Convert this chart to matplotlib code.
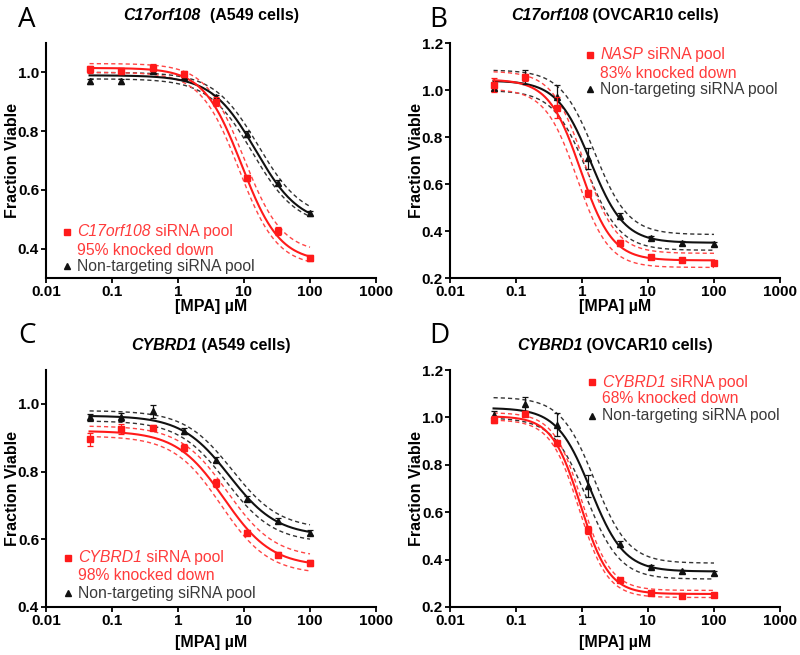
import numpy as np
import matplotlib

matplotlib.use('Agg')
import matplotlib.pyplot as plt

plt.rcParams['font.family'] = ['Liberation Sans', 'DejaVu Sans']

# MPA concentrations (uM), 3-fold dilutions
conc = [0.0457, 0.137, 0.412, 1.23, 3.70, 11.1, 33.3, 100]

# panel A: C17orf108, A549
a_kd = [1.010, 1.005, 1.015, 0.995, 0.900, 0.640, 0.460, 0.368]
a_kd_err = [0.012, 0.010, 0.012, 0.010, 0.015, 0.010, 0.012, 0.010]
a_nt = [0.970, 0.970, 1.005, 0.985, 0.915, 0.790, 0.625, 0.520]
a_nt_err = [0.008, 0.008, 0.008, 0.008, 0.008, 0.010, 0.008, 0.008]
# fit params: top, bottom, ec50, hill  (fit, upper 95% band, lower 95% band)
a_kd_fit = [(1.015, 0.355, 9.2, 1.5), (1.030, 0.385, 10.0, 1.5), (1.000, 0.340, 8.4, 1.5)]
a_nt_fit = [(0.990, 0.480, 15.0, 1.3), (1.000, 0.500, 16.5, 1.3), (0.978, 0.475, 13.5, 1.3)]

# panel B: C17orf108, OVCAR10 (NASP knockdown)
b_kd = [1.020, 1.055, 0.925, 0.560, 0.350, 0.290, 0.275, 0.265]
b_kd_err = [0.030, 0.015, 0.045, 0.015, 0.012, 0.010, 0.008, 0.008]
b_nt = [1.010, 1.055, 0.970, 0.710, 0.465, 0.370, 0.350, 0.345]
b_nt_err = [0.015, 0.030, 0.050, 0.045, 0.012, 0.008, 0.008, 0.008]
b_kd_fit = [(1.045, 0.275, 0.95, 1.8), (1.080, 0.305, 1.08, 1.8), (1.005, 0.245, 0.84, 1.8)]
b_nt_fit = [(1.040, 0.350, 1.35, 1.7), (1.085, 0.385, 1.55, 1.7), (0.998, 0.318, 1.18, 1.7)]

# panel C: CYBRD1, A549
c_kd = [0.895, 0.925, 0.930, 0.870, 0.765, 0.620, 0.555, 0.530]
c_kd_err = [0.020, 0.015, 0.008, 0.010, 0.012, 0.008, 0.008, 0.010]
c_nt = [0.960, 0.960, 0.978, 0.920, 0.835, 0.720, 0.655, 0.620]
c_nt_err = [0.010, 0.012, 0.020, 0.008, 0.008, 0.008, 0.008, 0.008]
c_kd_fit = [(0.920, 0.520, 5.0, 1.2), (0.935, 0.545, 5.6, 1.2), (0.905, 0.497, 4.5, 1.2)]
c_nt_fit = [(0.965, 0.610, 6.0, 1.2), (0.980, 0.630, 6.6, 1.2), (0.950, 0.590, 5.4, 1.2)]

# panel D: CYBRD1, OVCAR10
d_kd = [0.990, 1.015, 0.890, 0.525, 0.315, 0.260, 0.245, 0.250]
d_kd_err = [0.015, 0.010, 0.010, 0.015, 0.008, 0.008, 0.006, 0.008]
d_nt = [1.010, 1.055, 0.970, 0.710, 0.465, 0.370, 0.350, 0.345]
d_nt_err = [0.015, 0.030, 0.050, 0.045, 0.012, 0.008, 0.008, 0.008]
d_kd_fit = [(1.005, 0.255, 0.95, 2.0), (1.020, 0.270, 1.00, 2.0), (0.990, 0.240, 0.90, 2.0)]
d_nt_fit = b_nt_fit

xticks = [0.01, 0.1, 1, 10, 100, 1000]
xticklabels = ['0.01', '0.1', '1', '10', '100', '1000']

RED = '#ff1a1a'
RED_TXT = '#ff3b3b'
BLK = '#111111'
GRY_TXT = '#3a3a3a'


def logistic(x, top, bottom, ec50, hill):
    return bottom + (top - bottom) / (1 + (x / ec50) ** hill)


panels = [
    dict(letter='A', gene='C17orf108', cells='  (A549 cells)', kd_gene='C17orf108', pct='95%',
         kd=a_kd, kd_err=a_kd_err, nt=a_nt, nt_err=a_nt_err, kd_fit=a_kd_fit, nt_fit=a_nt_fit,
         ylim=(0.3, 1.1), yticks=[0.4, 0.6, 0.8, 1.0],
         rect=[46, 43, 330, 235], leg=(0.064, [0.196, 0.119, 0.051]), tity=1.119, xlaby=-0.088),
    dict(letter='B', gene='C17orf108', cells=' (OVCAR10 cells)', kd_gene='NASP', pct='83%',
         kd=b_kd, kd_err=b_kd_err, nt=b_nt, nt_err=b_nt_err, kd_fit=b_kd_fit, nt_fit=b_nt_fit,
         ylim=(0.2, 1.2), yticks=[0.2, 0.4, 0.6, 0.8, 1.0, 1.2],
         rect=[450, 43, 330, 235], leg=(0.424, [0.949, 0.872, 0.804]), tity=1.119, xlaby=-0.088),
    dict(letter='C', gene='CYBRD1', cells=' (A549 cells)', kd_gene='CYBRD1', pct='98%',
         kd=c_kd, kd_err=c_kd_err, nt=c_nt, nt_err=c_nt_err, kd_fit=c_kd_fit, nt_fit=c_nt_fit,
         ylim=(0.4, 1.1), yticks=[0.4, 0.6, 0.8, 1.0],
         rect=[46, 370, 330, 237], leg=(0.067, [0.207, 0.135, 0.059]), tity=1.105, xlaby=-0.118),
    dict(letter='D', gene='CYBRD1', cells=' (OVCAR10 cells)', kd_gene='CYBRD1', pct='68%',
         kd=d_kd, kd_err=d_kd_err, nt=d_nt, nt_err=d_nt_err, kd_fit=d_kd_fit, nt_fit=d_nt_fit,
         ylim=(0.2, 1.2), yticks=[0.2, 0.4, 0.6, 0.8, 1.0, 1.2],
         rect=[450, 370, 330, 237], leg=(0.430, [0.949, 0.878, 0.806]), tity=1.105, xlaby=-0.118),
]

W, H = 800, 655
fig = plt.figure(figsize=(W / 100, H / 100), dpi=100)
xs = np.logspace(np.log10(conc[0]), np.log10(conc[-1]), 300)
titles = []

for p in panels:
    l, t, w, h = p['rect']
    ax = fig.add_axes([l / W, 1 - (t + h) / H, w / W, h / H])

    for fits, col, dcol in [(p['nt_fit'], BLK, '#333333'), (p['kd_fit'], RED, '#ff4545')]:
        ax.plot(xs, logistic(xs, *fits[0]), color=col, lw=1.5, zorder=3)
        for f in fits[1:]:
            ax.plot(xs, logistic(xs, *f), color=dcol, lw=1.0, dashes=(3, 2.2), zorder=2)

    ax.errorbar(conc, p['nt'], yerr=p['nt_err'], fmt='^', color=BLK, ms=4.5,
                elinewidth=0.9, capsize=2.5, capthick=0.9, zorder=4)
    ax.errorbar(conc, p['kd'], yerr=p['kd_err'], fmt='s', color=RED, ms=4,
                elinewidth=0.9, capsize=2.5, capthick=0.9, zorder=5)

    ax.set_xscale('log')
    ax.set_xlim(0.01, 1000)
    ax.set_ylim(*p['ylim'])
    ax.set_xticks(xticks)
    ax.set_xticklabels(xticklabels)
    ax.minorticks_off()
    ax.set_yticks(p['yticks'])
    ax.set_yticklabels(['%.1f' % v for v in p['yticks']])
    for s in ['top', 'right']:
        ax.spines[s].set_visible(False)
    for s in ['left', 'bottom']:
        ax.spines[s].set_linewidth(1.5)
    ax.tick_params(width=1.3, length=3.5, labelsize=11, pad=1.5)
    for lab in ax.get_xticklabels() + ax.get_yticklabels():
        lab.set_fontweight('bold')

    ax.set_ylabel('Fraction Viable', fontsize=11.5, fontweight='bold')
    ax.yaxis.set_label_coords(-0.08, 0.5)
    ax.set_xlabel('[MPA] µM', fontsize=11.5, fontweight='bold')
    ax.xaxis.set_label_coords(0.5, p['xlaby'])

    # title: bold italic gene name followed by bold cell line
    t1 = ax.text(0.5, p['tity'], p['gene'], transform=ax.transAxes, ha='left', va='center',
                 fontsize=11.5, fontweight='bold', style='italic')
    t2 = ax.annotate(p['cells'], xy=(1, 0), xycoords=t1, ha='left', va='bottom',
                     fontsize=11.5, fontweight='bold')
    titles.append((ax, t1, t2))

    # legend, drawn by hand
    mx, ly = p['leg']
    tx = mx + 0.031
    ax.plot([mx], [ly[0]], 's', color=RED, ms=4, transform=ax.transAxes, clip_on=False)
    ax.plot([mx], [ly[2]], '^', color=BLK, ms=4, transform=ax.transAxes, clip_on=False)
    g = ax.text(tx, ly[0], p['kd_gene'], color=RED_TXT, style='italic',
                transform=ax.transAxes, va='center', ha='left', fontsize=11.3)
    ax.annotate(' siRNA pool', xy=(1, 0), xycoords=g, color=RED_TXT,
                va='bottom', ha='left', fontsize=11.3)
    ax.text(tx, ly[1], p['pct'] + ' knocked down', color=RED_TXT,
            transform=ax.transAxes, va='center', ha='left', fontsize=11.3)
    ax.text(tx, ly[2], 'Non-targeting siRNA pool', color=GRY_TXT,
            transform=ax.transAxes, va='center', ha='left', fontsize=11.3)

    # panel letter
    lx = 18 if l < 400 else 429
    base = 27 if t < 300 else 343
    fig.text(lx / W, 1 - base / H, p['letter'], fontsize=20, family='Open Sans',
             ha='left', va='baseline')

# centre each two-part title over its axes
renderer = fig.canvas.get_renderer()
for ax, t1, t2 in titles:
    total = t1.get_window_extent(renderer).width + t2.get_window_extent(renderer).width
    t1.set_x(0.5 - total / 2 / ax.bbox.width)

fig.savefig('out.png', dpi=100)
